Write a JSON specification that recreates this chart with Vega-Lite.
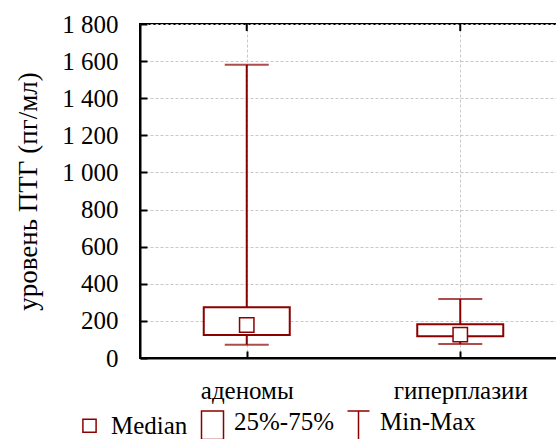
{
  "$schema": "https://vega.github.io/schema/vega-lite/v6.json",
  "width": 427,
  "height": 334,
  "padding": {"left": 14, "top": 12, "right": 0, "bottom": 0},
  "background": "white",
  "config": {
    "view": {"stroke": "black", "strokeWidth": 2},
    "font": "Liberation Serif",
    "locale": {
      "number": {"decimal": ",", "thousands": " ", "grouping": [3], "currency": ["", ""]}
    },
    "axis": {
      "labelFont": "Liberation Serif",
      "titleFont": "Liberation Serif",
      "labelColor": "black",
      "titleColor": "black",
      "domainColor": "black",
      "tickColor": "black",
      "domainWidth": 2,
      "tickWidth": 2,
      "tickSize": -7,
      "gridColor": "#c8c8c8",
      "gridDash": [3, 2],
      "gridWidth": 1,
      "labelOverlap": false
    }
  },
  "data": {
    "values": [
      {"group": "аденомы", "min": 72, "q1": 124, "median": 178, "q3": 273, "max": 1580},
      {"group": "гиперплазии", "min": 75, "q1": 117, "median": 126, "q3": 182, "max": 318}
    ]
  },
  "encoding": {
    "x": {
      "field": "group", "type": "nominal", "sort": null,
      "scale": {"type": "point", "padding": 0.5},
      "axis": {"orient": "bottom", "title": null, "labelFontSize": 25, "labelAngle": 0, "labelPadding": 27, "grid": true}
    }
  },
  "layer": [
    {
      "mark": {"type": "rule", "color": "#8B0000", "strokeWidth": 2},
      "encoding": {
        "y": {
          "field": "min", "type": "quantitative",
          "scale": {"domain": [0, 1800], "nice": false},
          "axis": {
            "values": [0, 200, 400, 600, 800, 1000, 1200, 1400, 1600, 1800],
            "tickCount": 20,
            "format": ",d",
            "labelFontSize": 25,
            "titleFontSize": 27,
            "titleFontWeight": "normal",
            "labelPadding": 29,
            "titlePadding": 19,
            "labelOverlap": false,
            "labelBound": false,
            "labelFlush": false,
            "grid": true
          },
          "title": "уровень ПТГ  (пг/мл)"
        },
        "y2": {"field": "max"}
      }
    },
    {
      "mark": {"type": "rule", "color": "black", "strokeWidth": 2},
      "encoding": {
        "y": {"datum": 1800, "type": "quantitative"},
        "y2": {"datum": 1762}
      }
    },
    {
      "mark": {"type": "tick", "color": "#8B0000", "thickness": 2, "size": 44},
      "encoding": {
        "y": {"field": "min", "type": "quantitative"}
      }
    },
    {
      "mark": {"type": "tick", "color": "#8B0000", "thickness": 2, "size": 44},
      "encoding": {
        "y": {"field": "max", "type": "quantitative"}
      }
    },
    {
      "mark": {"type": "bar", "width": 86, "fill": "white", "stroke": "#8B0000", "strokeWidth": 2},
      "encoding": {
        "y": {"field": "q1", "type": "quantitative"},
        "y2": {"field": "q3"}
      }
    },
    {
      "mark": {"type": "point", "filled": true, "fill": "white", "stroke": "#8B0000", "strokeWidth": 1.5, "size": 576, "opacity": 1},
      "encoding": {
        "y": {"field": "median", "type": "quantitative"},
        "shape": {
          "datum": "Median",
          "scale": {
            "domain": ["Median", "25%-75%", "Min-Max"],
            "range": ["M-0.6,-0.6H0.6V0.6H-0.6Z", "M-1,-1H1V1.6H-1Z", "M-1,-1H1M0,-1V1.6"]
          },
          "legend": {
            "orient": "none",
            "legendX": -63,
            "legendY": 385,
            "direction": "horizontal",
            "title": null,
            "labelFont": "Liberation Serif",
            "labelFontSize": 25,
            "labelColor": "black",
            "symbolSize": 484,
            "labelOffset": 9,
            "columnPadding": 10,
            "encode": {
              "symbols": {
                "update": {
                  "fill": {"value": "white"},
                  "stroke": {"value": "#8B0000"},
                  "strokeWidth": {"value": 1.5},
                  "opacity": {"value": 1}
                }
              }
            }
          }
        }
      }
    }
  ]
}
